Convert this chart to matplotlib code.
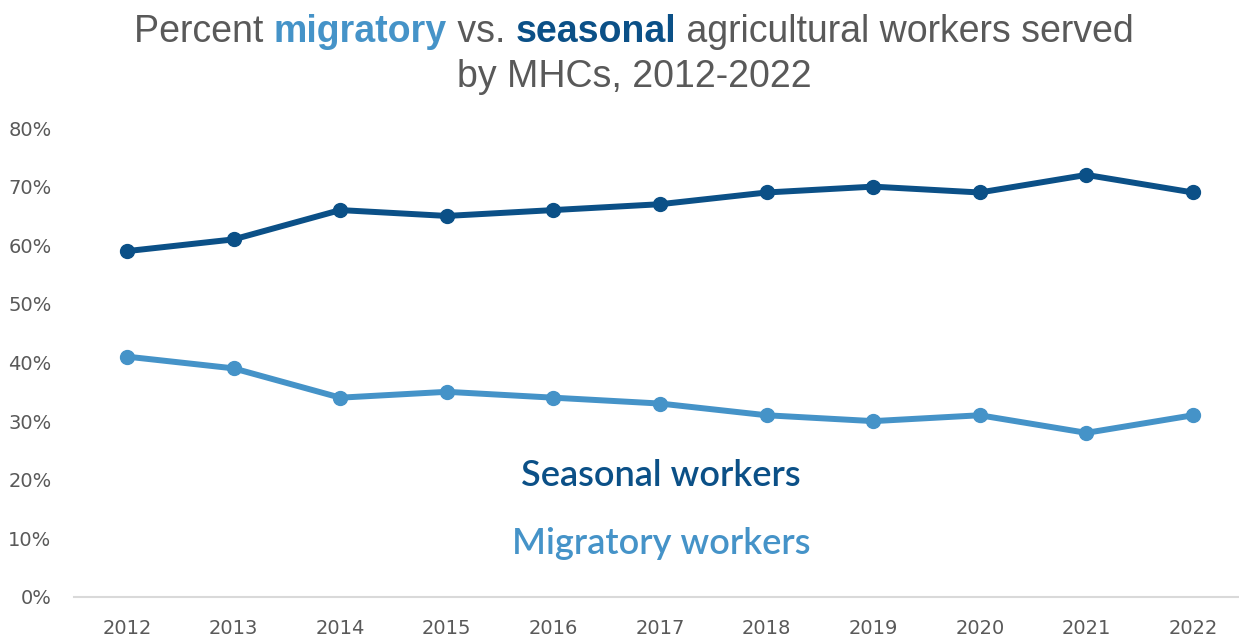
import matplotlib
matplotlib.use("Agg")
import matplotlib.pyplot as plt
from matplotlib.ticker import FuncFormatter

years = ["2012", "2013", "2014", "2015", "2016", "2017", "2018", "2019", "2020", "2021", "2022"]
seasonal = [59, 61, 66, 65, 66, 67, 69, 70, 69, 72, 69]
migratory = [41, 39, 34, 35, 34, 33, 31, 30, 31, 28, 31]

DARK = "#0B5087"
LIGHT = "#4593C8"
GREY = "#595959"

W, H = 1239, 639
fig = plt.figure(figsize=(W / 100, H / 100), dpi=100)
ax = fig.add_axes([73.7 / W, 42 / H, (W - 73.7) / W, 469 / H])

x = list(range(len(years)))
ax.plot(x, [v / 100 for v in seasonal], color=DARK, lw=4.3, marker="o", ms=10, solid_capstyle="round")
ax.plot(x, [v / 100 for v in migratory], color=LIGHT, lw=4.3, marker="o", ms=10, solid_capstyle="round")

ax.set_xlim(-0.5, -0.5 + (W - 73.7) / 106.6)
ax.set_ylim(0, 0.8)
ax.set_xticks(x)
ax.set_xticklabels(years)
ax.set_yticks([i / 10 for i in range(9)])
ax.yaxis.set_major_formatter(FuncFormatter(lambda v, p: f"{round(v * 100)}%"))
for s in ["top", "right", "left"]:
    ax.spines[s].set_visible(False)
ax.spines["bottom"].set_color("#D9D9D9")
ax.spines["bottom"].set_linewidth(1.5)
ax.tick_params(axis="both", length=0, labelsize=14, labelcolor=GREY)
ax.tick_params(axis="y", pad=16)
ax.tick_params(axis="x", pad=16)
for lbl in ax.get_xticklabels() + ax.get_yticklabels():
    lbl.set_fontfamily("DejaVu Sans")

# Series labels
fig.text(661 / W, 1 - 476 / H, "Seasonal workers", color=DARK, fontsize=26,
         fontweight="semibold", family="Lato", ha="center", va="center")
fig.text(661 / W, 1 - 544 / H, "Migratory workers", color=LIGHT, fontsize=26,
         fontweight="semibold", family="Lato", ha="center", va="center")

# Two-line title with coloured keywords
title_parts = [
    ("Percent ", GREY, "normal"),
    ("migratory", LIGHT, "bold"),
    (" vs. ", GREY, "normal"),
    ("seasonal", DARK, "bold"),
    (" agricultural workers served", GREY, "normal"),
]
tfs = 27
fig.canvas.draw()
renderer = fig.canvas.get_renderer()
pieces = []
total = 0
for txt, col, wt in title_parts:
    t = fig.text(0, 0, txt, color=col, fontsize=tfs, fontweight=wt, family="Liberation Sans",
                 ha="left", va="baseline")
    bb = t.get_window_extent(renderer)
    pieces.append((t, bb.width))
    total += bb.width
xstart = 634 - total / 2
ybase = H - 42
cur = xstart
for t, w in pieces:
    t.set_position((cur / W, ybase / H))
    cur += w
fig.text(634 / W, (H - 87) / H, "by MHCs, 2012-2022", color=GREY,
         fontsize=tfs, family="Liberation Sans", ha="center", va="baseline")

fig.savefig("out.png", dpi=100)
